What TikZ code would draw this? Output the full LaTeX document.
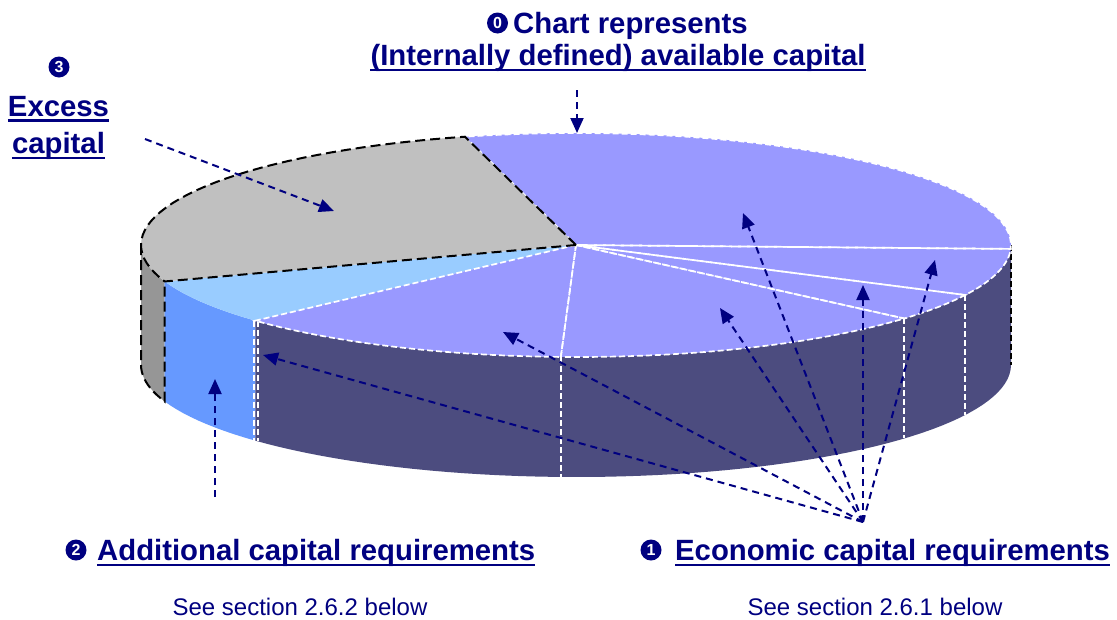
\documentclass[tikz,border=0pt]{standalone}
\usepackage{fontspec}
\setmainfont{Liberation Sans}
\usetikzlibrary{arrows.meta}
\definecolor{navy}{HTML}{000080}
\definecolor{ptop}{HTML}{9999FF}
\definecolor{pside}{HTML}{4C4C7F}
\definecolor{gtop}{HTML}{C0C0C0}
\definecolor{gside}{HTML}{969696}
\definecolor{btop}{HTML}{99CCFF}
\definecolor{bside}{HTML}{6699FF}
\def\pX#1{576+435*cos(#1)}
\def\pY#1{245-112*sin(#1)}
\def\pZ#1{365-112*sin(#1)}
\begin{document}
\begin{tikzpicture}[x=1pt,y=-1pt,
  lab/.style={inner sep=0pt, text=navy, font=\fontsize{29.3}{35}\selectfont\bfseries},
  sub/.style={inner sep=0pt, text=navy, font=\fontsize{24}{29}\selectfont},
  num/.style={circle, fill=navy, inner sep=0pt, minimum size=21pt, text=white, font=\fontsize{16}{16}\selectfont\bfseries},
  arr/.style={navy, line width=2pt, dash pattern=on 7pt off 5pt, -{Triangle[length=15pt,width=13pt]}},
  ul/.style={navy, line width=2.6pt},
  wd/.style={white, line width=1.7pt, dash pattern=on 6pt off 3pt},
  bd/.style={black, line width=2pt, dash pattern=on 10pt off 5pt},
]
\useasboundingbox (0,0) rectangle (1117,619);
\fill[white] (0,0) rectangle (1117,619);

% ---- side faces
\fill[gside] plot[domain=180:199,samples=12] ({\pX{\x}},{\pY{\x}}) -- plot[domain=199:180,samples=12] ({\pX{\x}},{\pZ{\x}}) -- cycle;
\fill[bside] plot[domain=199:222.5,samples=12] ({\pX{\x}},{\pY{\x}}) -- plot[domain=222.5:199,samples=12] ({\pX{\x}},{\pZ{\x}}) -- cycle;
\fill[pside] plot[domain=222.5:360,samples=60] ({\pX{\x}},{\pY{\x}}) -- plot[domain=360:222.5,samples=60] ({\pX{\x}},{\pZ{\x}}) -- cycle;

% side edges
\foreach \a in {268,319,333.5}{
  \draw[wd] ({\pX{\a}},{\pY{\a}}) -- ({\pX{\a}},{\pZ{\a}});
}
\draw[wd] ({\pX{222.5}-1.5},{\pY{222.5}}) -- ({\pX{222.5}-1.5},{\pZ{222.5}});
\draw[wd] ({\pX{222.5}+2.5},{\pY{222.5}}) -- ({\pX{222.5}+2.5},{\pZ{222.5}});
\draw[black, line width=1.2pt, dash pattern=on 6pt off 3pt] ({\pX{360}},{\pY{360}}) -- ({\pX{360}},{\pZ{360}});
\draw[bd] ({\pX{180}},{\pY{180}}) -- ({\pX{180}},{\pZ{180}}) -- plot[domain=180:199,samples=12] ({\pX{\x}},{\pZ{\x}}) -- ({\pX{199}},{\pY{199}});

% ---- top slices
\coordinate (C) at (576,245);
\fill[btop] (C) -- plot[domain=199:222.5,samples=12] ({\pX{\x}},{\pY{\x}}) -- cycle;
\foreach \a/\b in {222.5/268, 268/319, 319/333.5, 333.5/358, 358/464.8}{
  \fill[ptop] (C) -- plot[domain=\a:\b,samples=40] ({\pX{\x}},{\pY{\x}}) -- cycle;
}
\foreach \a/\b in {222.5/268, 268/319, 319/333.5, 333.5/358, 358/464.8}{
  \draw[wd] (C) -- plot[domain=\a:\b,samples=40] ({\pX{\x}},{\pY{\x}}) -- cycle;
}
\fill[gtop] (C) -- plot[domain=104.8:199,samples=40] ({\pX{\x}},{\pY{\x}}) -- cycle;
\draw[bd] (C) -- plot[domain=104.8:199,samples=40] ({\pX{\x}},{\pY{\x}}) -- cycle;

% ---- labels
\node[num] (n0) at (497.5,23) {0};
\node[lab, anchor=base west] (t1) at (513,33) {Chart represents};
\node[lab, anchor=base] (t2) at (618,65) {(Internally defined) available capital};
\draw[ul] ([yshift=-5pt]t2.base west) -- ([yshift=-5pt]t2.base east);

\node[num] (n3) at (59,67) {3};
\node[lab, anchor=base] (t3a) at (58.5,116) {Excess};
\node[lab, anchor=base] (t3b) at (58.5,153) {capital};
\draw[ul] ([yshift=-4.5pt]t3a.base west) -- ([yshift=-4.5pt]t3a.base east);
\draw[ul] ([yshift=-5pt]t3b.base west) -- ([yshift=-5pt]t3b.base east);

\node[num] (n2) at (76,550) {2};
\node[lab, anchor=base west] (t4) at (97,560) {Additional capital requirements};
\draw[ul] ([yshift=-5pt]t4.base west) -- ([yshift=-5pt]t4.base east);
\node[sub, anchor=base] (s4) at (300,615) {See section 2.6.2 below};

\node[num] (n1) at (651,550) {1};
\node[lab, anchor=base west] (t5) at (675,560) {Economic capital requirements};
\draw[ul] ([yshift=-5pt]t5.base west) -- ([yshift=-5pt]t5.base east);
\node[sub, anchor=base] (s5) at (875,615) {See section 2.6.1 below};

% ---- arrows
\coordinate (a0s) at (577,90);
\coordinate (a0e) at (577,133);
\draw[arr] (a0s) -- (a0e);
\coordinate (a3s) at (145,139);
\coordinate (a3e) at (334,211);
\draw[arr] (a3s) -- (a3e);
\coordinate (a2s) at (215,497);
\coordinate (a2e) at (215,379);
\draw[arr] (a2s) -- (a2e);
\coordinate (P) at (863,522);
\coordinate (e1) at (263,355);
\coordinate (e2) at (503,332);
\coordinate (e3) at (720,308);
\coordinate (e4) at (743,213);
\coordinate (e5) at (863,285);
\coordinate (e6) at (935,260);
\foreach \t in {e1,e2,e3,e4,e5,e6}{
  \draw[arr] (P) -- (\t);
}
\end{tikzpicture}
\end{document}
